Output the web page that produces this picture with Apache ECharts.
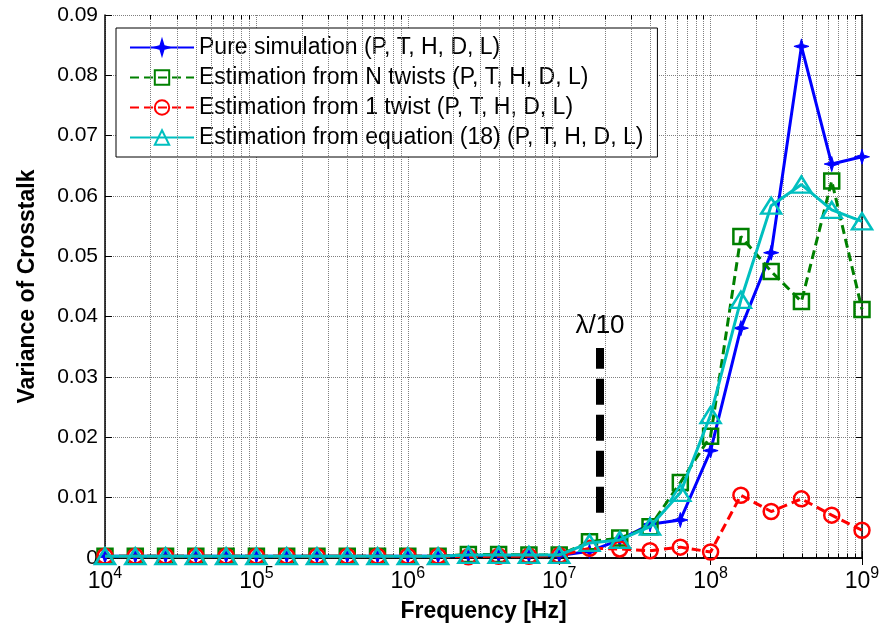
<!DOCTYPE html>
<html>
<head>
<meta charset="utf-8">
<script src="https://cdn.jsdelivr.net/npm/echarts@6/dist/echarts.min.js"></script>
<style>
  html, body { margin: 0; padding: 0; background: #fff; }
  #chart { width: 882px; height: 634px; }
</style>
</head>
<body>
<div id="chart"></div>
<script>
// frequency points (Hz), 5 per decade
const freqs = [1.0e4, 1.585e4, 2.512e4, 3.981e4, 6.310e4,
  1.0e5, 1.585e5, 2.512e5, 3.981e5, 6.310e5,
  1.0e6, 1.585e6, 2.512e6, 3.981e6, 6.310e6,
  1.0e7, 1.585e7, 2.512e7, 3.981e7, 6.310e7,
  1.0e8, 1.585e8, 2.512e8, 3.981e8, 6.310e8, 1.0e9]

const pureSim = [0.0003, 0.0003, 0.0003, 0.0003, 0.0003,
  0.0003, 0.0003, 0.0003, 0.0003, 0.0003,
  0.0003, 0.0003, 0.0004, 0.0004, 0.0004,
  0.0004, 0.0011, 0.0030, 0.0056, 0.0063,
  0.0178, 0.0381, 0.0506, 0.0848, 0.0653, 0.0665]
const estNTwists = [0.0003, 0.0003, 0.0003, 0.0003, 0.0003,
  0.0003, 0.0003, 0.0003, 0.0003, 0.0003,
  0.0003, 0.0003, 0.0006, 0.0006, 0.0005,
  0.0005, 0.0027, 0.0033, 0.0052, 0.0125,
  0.0202, 0.0533, 0.0475, 0.0425, 0.0625, 0.0412]
const est1Twist = [0.0003, 0.0003, 0.0003, 0.0003, 0.0003,
  0.0003, 0.0003, 0.0003, 0.0003, 0.0003,
  0.0003, 0.0003, 0.0002, 0.0003, 0.0003,
  0.0004, 0.0016, 0.0015, 0.0012, 0.0018,
  0.0010, 0.0104, 0.0077, 0.0098, 0.0071, 0.0046]
const estEquation = [0.0003, 0.0003, 0.0003, 0.0003, 0.0003,
  0.0003, 0.0003, 0.0003, 0.0003, 0.0003,
  0.0003, 0.0003, 0.0005, 0.0005, 0.0005,
  0.0005, 0.0025, 0.0030, 0.0052, 0.0108,
  0.0237, 0.0428, 0.0584, 0.0619, 0.0577, 0.0558]

const seriesNames = [
  'Pure simulation (P, T, H, D, L)',
  'Estimation from N twists (P, T, H, D, L)',
  'Estimation from 1 twist (P, T, H, D, L)',
  'Estimation from equation (18) (P, T, H, D, L)'
]

// lambda/10 marker
const lambdaFreq = 1.86e7
const lambdaRange = [0.0075, 0.0348]
const lambdaText = 'λ/10'
const lambdaTextY = 0.0385

// minor grid positions
const decades = [1e4, 1e5, 1e6, 1e7, 1e8]
const minorMult = [2, 3, 4, 5, 6, 7, 8, 9]
const yMax = 0.09

const minorFreqs = []
decades.forEach(d => minorMult.forEach(m => minorFreqs.push(m * d)))

const gridColor = '#7f7f7f'
const font = 'Liberation Sans, Arial, Helvetica, sans-serif'

function pairs(vals) {
  return freqs.map((f, i) => [f, vals[i]])
}

const chart = echarts.init(document.getElementById('chart'), null, { renderer: 'canvas' })

const minorGridLines = minorFreqs.map(f => ({ xAxis: f }))
const minorTicks = []
minorFreqs.forEach(f => {
  minorTicks.push([{ coord: [f, 0] }, { coord: [f, 0.0007] }])
  minorTicks.push([{ coord: [f, yMax] }, { coord: [f, yMax - 0.0007] }])
})

chart.setOption({
  animation: false,
  backgroundColor: '#fff',
  textStyle: { fontFamily: font },
  grid: { left: 105, right: 20, top: 15, bottom: 76, containLabel: false, outerBoundsMode: 'none' },
  legend: {
    orient: 'vertical',
    left: 116,
    top: 28,
    padding: [8, 14, 8, 13],
    itemWidth: 64,
    itemHeight: 18,
    itemGap: 7,
    backgroundColor: '#fff',
    borderColor: '#000',
    borderWidth: 1,
    borderRadius: 0,
    textStyle: { fontSize: 23, color: '#000', fontFamily: font, lineHeight: 23 },
    data: seriesNames
  },
  xAxis: [
    {
      type: 'log',
      logBase: 10,
      min: 1e4,
      max: 1e9,
      axisLine: { show: true, lineStyle: { color: '#000', width: 1.5 } },
      axisTick: { show: true, inside: true, length: 7, lineStyle: { color: '#000' } },
      axisLabel: {
        margin: 8,
        color: '#000',
        formatter: v => '{b|10}{s|' + Math.round(Math.log10(v)) + '}',
        rich: {
          b: { fontSize: 23, fontFamily: font, color: '#000' },
          s: { fontSize: 16, fontFamily: font, color: '#000', padding: [0, 0, 15, 0] }
        }
      },
      splitLine: { show: true, lineStyle: { color: gridColor, type: 'dotted', width: 1 } },
      name: 'Frequency [Hz]',
      nameLocation: 'middle',
      nameGap: 42,
      nameTextStyle: { fontSize: 23, fontWeight: 'bold', color: '#000', fontFamily: font }
    },
    {
      type: 'log',
      logBase: 10,
      min: 1e4,
      max: 1e9,
      position: 'top',
      axisLine: { show: true, lineStyle: { color: '#000', width: 1.5 } },
      axisTick: { show: true, inside: true, length: 7, lineStyle: { color: '#000' } },
      axisLabel: { show: false },
      splitLine: { show: false }
    }
  ],
  yAxis: [
    {
      type: 'value',
      min: 0,
      max: yMax,
      interval: 0.01,
      axisLine: { show: true, lineStyle: { color: '#000', width: 1.5 } },
      axisTick: { show: true, inside: true, length: 7, lineStyle: { color: '#000' } },
      axisLabel: {
        margin: 7,
        fontSize: 21,
        color: '#000',
        fontFamily: font,
        formatter: v => (v === 0 ? '0' : v.toFixed(2))
      },
      splitLine: { show: true, lineStyle: { color: gridColor, type: 'dotted', width: 1 } },
      name: 'Variance of Crosstalk',
      nameLocation: 'middle',
      nameGap: 66,
      nameTextStyle: { fontSize: 23, fontWeight: 'bold', color: '#000', fontFamily: font }
    },
    {
      type: 'value',
      min: 0,
      max: yMax,
      interval: 0.01,
      position: 'right',
      axisLine: { show: true, lineStyle: { color: '#000', width: 1.5 } },
      axisTick: { show: true, inside: true, length: 7, lineStyle: { color: '#000' } },
      axisLabel: { show: false },
      splitLine: { show: false }
    }
  ],
  series: [
    {
      // minor grid lines
      type: 'line',
      data: [],
      silent: true,
      markLine: {
        silent: true,
        symbol: 'none',
        label: { show: false },
        animation: false,
        lineStyle: { color: gridColor, type: 'dotted', width: 1 },
        data: minorGridLines
      },
      z: 1
    },
    {
      // minor ticks top and bottom
      type: 'line',
      data: [],
      silent: true,
      markLine: {
        silent: true,
        symbol: 'none',
        label: { show: false },
        animation: false,
        lineStyle: { color: '#000', type: 'solid', width: 1 },
        data: minorTicks
      },
      z: 2
    },
    {
      // lambda/10 annotation
      type: 'line',
      data: [],
      silent: true,
      markLine: {
        silent: true,
        symbol: 'none',
        label: { show: false },
        animation: false,
        lineStyle: { color: '#000', type: [26, 10], width: 8, cap: 'butt' },
        data: [[{ coord: [lambdaFreq, lambdaRange[0]] }, { coord: [lambdaFreq, lambdaRange[1]] }]]
      },
      markPoint: {
        silent: true,
        symbol: 'circle',
        symbolSize: 0,
        label: {
          show: true,
          position: 'inside',
          formatter: lambdaText,
          fontSize: 26,
          color: '#000',
          fontFamily: font
        },
        data: [{ coord: [lambdaFreq, lambdaTextY] }]
      },
      z: 3
    },
    {
      name: seriesNames[0],
      type: 'line',
      data: pairs(pureSim),
      color: '#0000ff',
      lineStyle: { color: '#0000ff', width: 3 },
      symbol: 'path://M0,-7L1.6,-1.6L7,0L1.6,1.6L0,7L-1.6,1.6L-7,0L-1.6,-1.6Z',
      symbolSize: 15,
      showAllSymbol: true,
      itemStyle: { color: '#0000ff', borderColor: '#0000ff', borderWidth: 1 },
      z: 5
    },
    {
      name: seriesNames[1],
      type: 'line',
      data: pairs(estNTwists),
      color: '#008000',
      lineStyle: { color: '#008000', width: 3, type: [9, 5] },
      symbol: 'rect',
      symbolSize: 15,
      showAllSymbol: true,
      itemStyle: { color: 'rgba(0,0,0,0)', borderColor: '#008000', borderWidth: 2.5 },
      z: 6
    },
    {
      name: seriesNames[2],
      type: 'line',
      data: pairs(est1Twist),
      color: '#ff0000',
      lineStyle: { color: '#ff0000', width: 3, type: [9, 5] },
      symbol: 'circle',
      symbolSize: 15,
      showAllSymbol: true,
      itemStyle: { color: 'rgba(0,0,0,0)', borderColor: '#ff0000', borderWidth: 2.5 },
      z: 7
    },
    {
      name: seriesNames[3],
      type: 'line',
      data: pairs(estEquation),
      color: '#00bfbf',
      lineStyle: { color: '#00bfbf', width: 3 },
      symbol: 'triangle',
      symbolSize: [20, 16],
      showAllSymbol: true,
      itemStyle: { color: 'rgba(0,0,0,0)', borderColor: '#00bfbf', borderWidth: 2.5 },
      z: 8
    }
  ]
})
</script>
</body>
</html>
